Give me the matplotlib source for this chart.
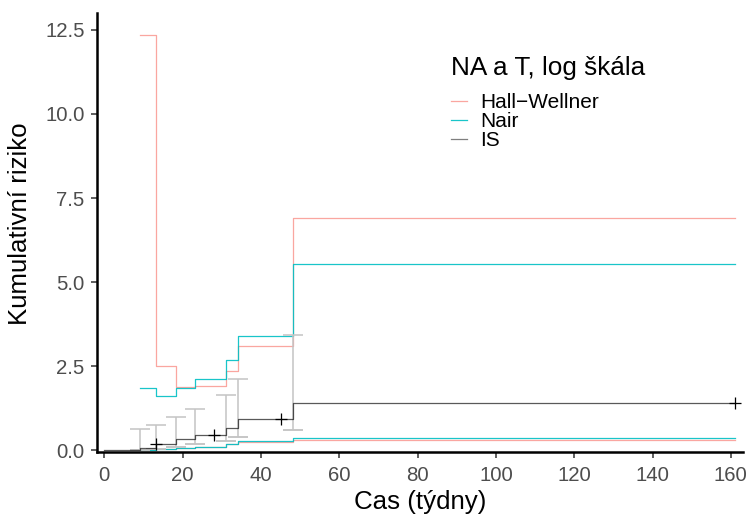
# Kumulativni riziko (Nelson-Aalen) s pasy spolehlivosti, log skala
import matplotlib.pyplot as plt
import numpy as np

plt.rcParams['font.family'] = ['Liberation Sans', 'DejaVu Sans']

# casy udalosti (tydny) pro pasy Hall-Wellner / Nair
t_band = [9.1, 13.1, 18.2, 23.2, 31.1, 34.1, 48.1, 161.1]
hw_upper = [12.36, 2.52, 1.88, 1.93, 2.36, 3.11, 6.92, 6.92]
hw_lower = [0.01, 0.03, 0.06, 0.10, 0.18, 0.25, 0.31, 0.31]
nair_upper = [1.87, 1.63, 1.86, 2.13, 2.70, 3.40, 5.53, 5.53]
nair_lower = [0.01, 0.03, 0.07, 0.11, 0.20, 0.27, 0.37, 0.37]

# Nelson-Aalen odhad
t_na = [0, 9.1, 13.1, 18.2, 23.2, 31.1, 34.1, 48.1, 161.1]
na = [0, 0.08, 0.19, 0.33, 0.47, 0.67, 0.93, 1.42, 1.42]

# cenzurovani
t_cens = [13.1, 28.1, 45.1, 161.1]
na_cens = [0.19, 0.47, 0.93, 1.42]

# bodove intervaly (IS)
t_is = [9.1, 13.1, 18.2, 23.2, 31.1, 34.1, 48.1]
is_lo = [0.01, 0.04, 0.10, 0.18, 0.27, 0.41, 0.60]
is_hi = [0.65, 0.77, 1.00, 1.24, 1.65, 2.13, 3.43]

red = '#F8766D'
cyan = '#00BFC4'
grey = '#7F7F7F'

fig = plt.figure(figsize=(7.51, 5.17), dpi=100)
ax = fig.add_axes([97/751, 1 - 452/517, 646/751, 439/517])

lw = 0.9
ax.step(t_band, hw_upper, where='post', color=red, alpha=0.65, lw=lw, label='Hall\u2212Wellner')
ax.step(t_band, hw_lower, where='post', color=red, alpha=0.65, lw=lw)
ax.step(t_band, nair_upper, where='post', color=cyan, alpha=0.9, lw=lw, label='Nair')
ax.step(t_band, nair_lower, where='post', color=cyan, alpha=0.9, lw=lw)

is_mid = np.array(is_lo)
ax.errorbar(t_is, is_mid, yerr=[np.zeros(len(t_is)), np.array(is_hi) - is_mid],
            fmt='none', ecolor='#C4C4C4', elinewidth=1.1, capsize=7.5, capthick=1.1)
ax.plot(t_is, is_lo, '_', color='#C4C4C4', ms=15, mew=1.1)

ax.step(t_na, na, where='post', color='black', alpha=0.65, lw=lw)
ax.plot(t_cens, na_cens, '+', color='black', ms=8.5, mew=0.9)
ax.plot([], [], color=grey, lw=lw, label='IS')

ax.set_xlim(-1.86, 163.1)
ax.set_ylim(-0.045, 13.0)
ax.set_xticks(np.arange(0, 161, 20))
ax.set_yticks([0, 2.5, 5, 7.5, 10, 12.5])
ax.set_yticklabels(['0.0', '2.5', '5.0', '7.5', '10.0', '12.5'])

for s in ['top', 'right']:
    ax.spines[s].set_visible(False)
for s in ['left', 'bottom']:
    ax.spines[s].set_linewidth(1.8)
ax.tick_params(axis='both', length=4, width=1.1, color='#333333',
               labelsize=14.7, labelcolor='#4D4D4D')
ax.tick_params(axis='x', pad=6)
ax.tick_params(axis='y', pad=5)

ax.set_xlabel('Cas (t\u00fddny)', fontsize=18.6, labelpad=4)
ax.set_ylabel('Kumulativn\u00ed riziko', fontsize=18.6)
ax.yaxis.set_label_coords(-0.1, 0.52)

leg = ax.legend(title='NA a T, log \u0161k\u00e1la', loc='upper left',
                bbox_to_anchor=(0.535, 0.92), frameon=False, fontsize=15,
                title_fontsize=18.8, handlelength=0.75, handletextpad=0.65,
                labelspacing=0.0, borderaxespad=0)
leg._legend_box.align = 'left'
leg._legend_box.sep = 9

fig.savefig('out.png', dpi=100)
